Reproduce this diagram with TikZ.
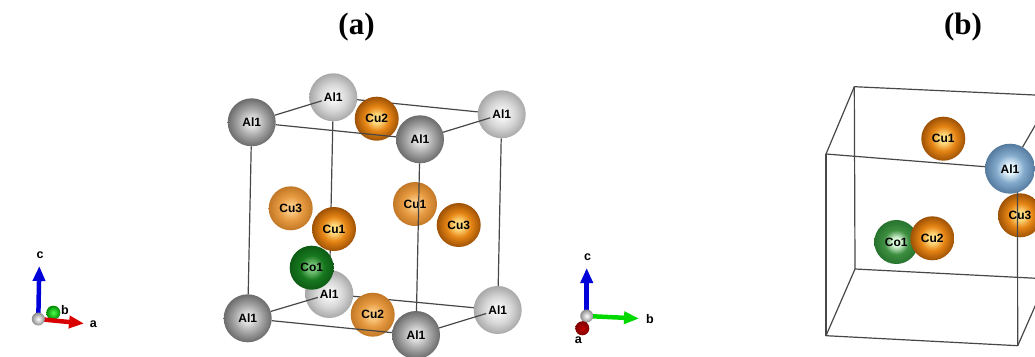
\documentclass[tikz,border=0pt]{standalone}
\usepackage{fontspec}
\setmainfont{Liberation Serif}
\newfontfamily\labelfont{Liberation Sans}
\usepackage{xcolor}
\usetikzlibrary{arrows.meta}

% centre, body and rim of each kind of atom
\newcommand{\atomshading}[4]{%
  \pgfdeclareradialshading{#1}{\pgfpoint{0bp}{0bp}}{%
    rgb(0bp)=(#2); rgb(5bp)=(#2); rgb(14bp)=(#3); rgb(25bp)=(#4); rgb(50bp)=(#4)}}
\atomshading{alpaleball}{.95,.95,.95}{.84,.84,.84}{.66,.66,.66}
\atomshading{aldarkball}{.88,.88,.88}{.66,.66,.66}{.42,.42,.42}
\atomshading{albluball}{.90,.96,.99}{.52,.67,.80}{.33,.48,.62}
\atomshading{cupaleball}{.98,.78,.50}{.90,.60,.25}{.76,.47,.15}
\atomshading{cudarkball}{1,.86,.50}{.90,.52,.08}{.62,.32,.02}
\atomshading{cogreenball}{.45,.75,.45}{.09,.47,.12}{.05,.36,.08}
\atomshading{cobgreenball}{.85,.97,.85}{.24,.56,.25}{.15,.45,.18}

\pgfdeclarelayer{edgeback}
\pgfdeclarelayer{atomback}
\pgfdeclarelayer{edgefront}
\pgfsetlayers{edgeback,atomback,edgefront,main}

\begin{document}
\begin{tikzpicture}[x=1pt,y=-1pt]
        \tikzset{
           atom/.style={
              circle,
              inner sep=0pt,
              outer sep=0pt,
              font=\labelfont\bfseries\fontsize{12}{14}\selectfont
           },
           alpale/.style={atom, minimum size=48pt, shading=alpaleball},
           aldark/.style={atom, minimum size=48pt, shading=aldarkball},
           alblue/.style={atom, minimum size=50pt, shading=albluball},
           cupale/.style={atom, minimum size=44pt, shading=cupaleball},
           cudark/.style={atom, minimum size=44pt, shading=cudarkball},
           cogreen/.style={atom, minimum size=44pt, shading=cogreenball},
           cogreenb/.style={atom, minimum size=44pt, shading=cobgreenball},
           edge/.style={draw=black!72, line width=1.2pt},
           title/.style={font=\bfseries\fontsize{31}{34}\selectfont},
           axis/.style={-{Triangle[width=12pt,length=15pt]}, line width=4.5pt},
           axislabel/.style={font=\labelfont\bfseries\fontsize{12.5}{14}\selectfont, inner sep=0pt},
           origin/.style={circle, minimum size=13pt, inner sep=0pt, inner color=white, outer color=black!45},
           tipball/.style={circle, minimum size=14pt, inner sep=0pt}
        }

        \useasboundingbox (0,0) rectangle (1035,356);

        % Titles
        \node[title] (titlea) at (356.5,27) {(a)};
        \node[title] (titleb) at (963,27) {(b)};

        % (a) back atoms
        \begin{pgfonlayer}{atomback}
        \node[alpale] (alback) at (333.3,97.3) {Al1};
        \node[alpale] (altr) at (501.7,114.3) {Al1};
        \node[alpale] (albackb) at (329.3,294) {Al1};
        \node[alpale] (albr) at (497.7,310) {Al1};
        \node[cudark] (cutwotop) at (376.7,118.7) {Cu2};
        \node[cupale] (cutwobot) at (372.7,314.7) {Cu2};
        \node[cupale] (cuthreel) at (290.7,208.3) {Cu3};
        \node[cupale] (cuoner) at (415,204) {Cu1};
        \node[cudark] (cuthreer) at (458.7,225) {Cu3};
        \end{pgfonlayer}

        % (a) front atoms
        \node[aldark] (altl) at (251.7,122.3) {Al1};
        \node[aldark] (albl) at (247.7,318.3) {Al1};
        \node[aldark] (alfront) at (420,139.3) {Al1};
        \node[aldark] (alfrontb) at (416,335) {Al1};
        \node[cudark] (cuonef) at (334,229) {Cu1};
        \node[cogreen] (coone) at (311.7,267.7) {Co1};

        % (a) cell edges behind the atoms
        \begin{pgfonlayer}{edgeback}
        \draw[edge] (alback) -- (altr);
        \draw[edge] (albackb) -- (albr);
        \draw[edge] (alback) -- (albackb);
        \draw[edge] (altr) -- (albr);
        \draw[edge] (altl) -- (albl);
        \end{pgfonlayer}

        % (a) cell edges in front
        \begin{pgfonlayer}{edgefront}
        \draw[edge, shorten >=-12pt] (altl) -- (alback);
        \draw[edge, shorten >=-12pt] (alfront) -- (altr);
        \draw[edge, shorten >=-12pt] (albl) -- (albackb);
        \draw[edge, shorten >=-12pt] (alfrontb) -- (albr);
        \draw[edge] (altl) -- (alfront);
        \draw[edge] (albl) -- (alfrontb);
        \draw[edge] (alfront) -- (alfrontb);
        \end{pgfonlayer}

        % (a) axes
        \coordinate (ctipa) at (39.3,266);
        \coordinate (atipa) at (84,323.5);
        \node[tipball, inner color=green!70, outer color=green!55!black] (bballa) at (53.3,312.7) {};
        \draw[axis, blue!85!black] (38.3,319) -- (ctipa);
        \draw[axis, red!85!black] (38.3,319) -- (atipa);
        \node[origin] (origina) at (38.3,319) {};
        \node[axislabel] (clabela) at (40,255) {c};
        \node[axislabel] (blabela) at (65,310) {b};
        \node[axislabel] (alabela) at (93.3,324) {a};

        % (b) axes
        \coordinate (ctipb) at (586.7,268);
        \coordinate (btipb) at (639,318.5);
        \draw[axis, blue!85!black] (586.7,316) -- (ctipb);
        \draw[axis, green!85!black] (586.7,316) -- (btipb);
        \draw[line width=4.5pt, red!65!black] (586.7,316) -- (582.3,328.3);
        \node[origin] (originb) at (586.7,316) {};
        \node[tipball, inner color=red!75!black, outer color=red!50!black] (aballb) at (582.3,328.3) {};
        \node[axislabel] (clabelb) at (587.7,257.3) {c};
        \node[axislabel] (blabelb) at (650,319.3) {b};
        \node[axislabel] (alabelb) at (578.3,340) {a};

        % (b) cell, cut by the right margin
        \begin{scope}
        \clip (0,0) rectangle (1035,356);

        \coordinate (backtl) at (854.3,86.7);
        \coordinate (backtr) at (1050,95.7);
        \coordinate (fronttl) at (826,154);
        \coordinate (fronttr) at (1017.4,169);
        \coordinate (backbl) at (855,269);
        \coordinate (backbr) at (1050,279);
        \coordinate (frontbl) at (826,335.7);
        \coordinate (frontbr) at (1017.7,345.7);
        \coordinate (frontup) at (1047,105);
        \coordinate (frontout) at (1047,279);

        \node[cudark] (cuone) at (943.3,138.7) {Cu1};
        \node[cudark] (cuthree) at (1020,215.3) {Cu3};
        \node[cogreenb] (cobone) at (896.3,242) {Co1};
        \node[cudark] (cutwo) at (932.3,238.3) {Cu2};

        \draw[edge] (fronttr) -- (frontbr);
        \node[alblue] (alone) at (1010,168.7) {Al1};

        \draw[edge] (backtl) -- (backtr);
        \draw[edge] (backtl) -- (fronttl);
        \draw[edge] (backtl) -- (backbl);
        \draw[edge] (fronttl) -- (alone);
        \draw[edge] (fronttl) -- (frontbl);
        \draw[edge] (backbl) -- (backbr);
        \draw[edge] (backbl) -- (frontbl);
        \draw[edge] (frontbl) -- (frontbr);
        \draw[edge] (frontbr) -- (frontout);
        \draw[edge] (alone) -- (frontup);
        \end{scope}
    \end{tikzpicture}
\end{document}
